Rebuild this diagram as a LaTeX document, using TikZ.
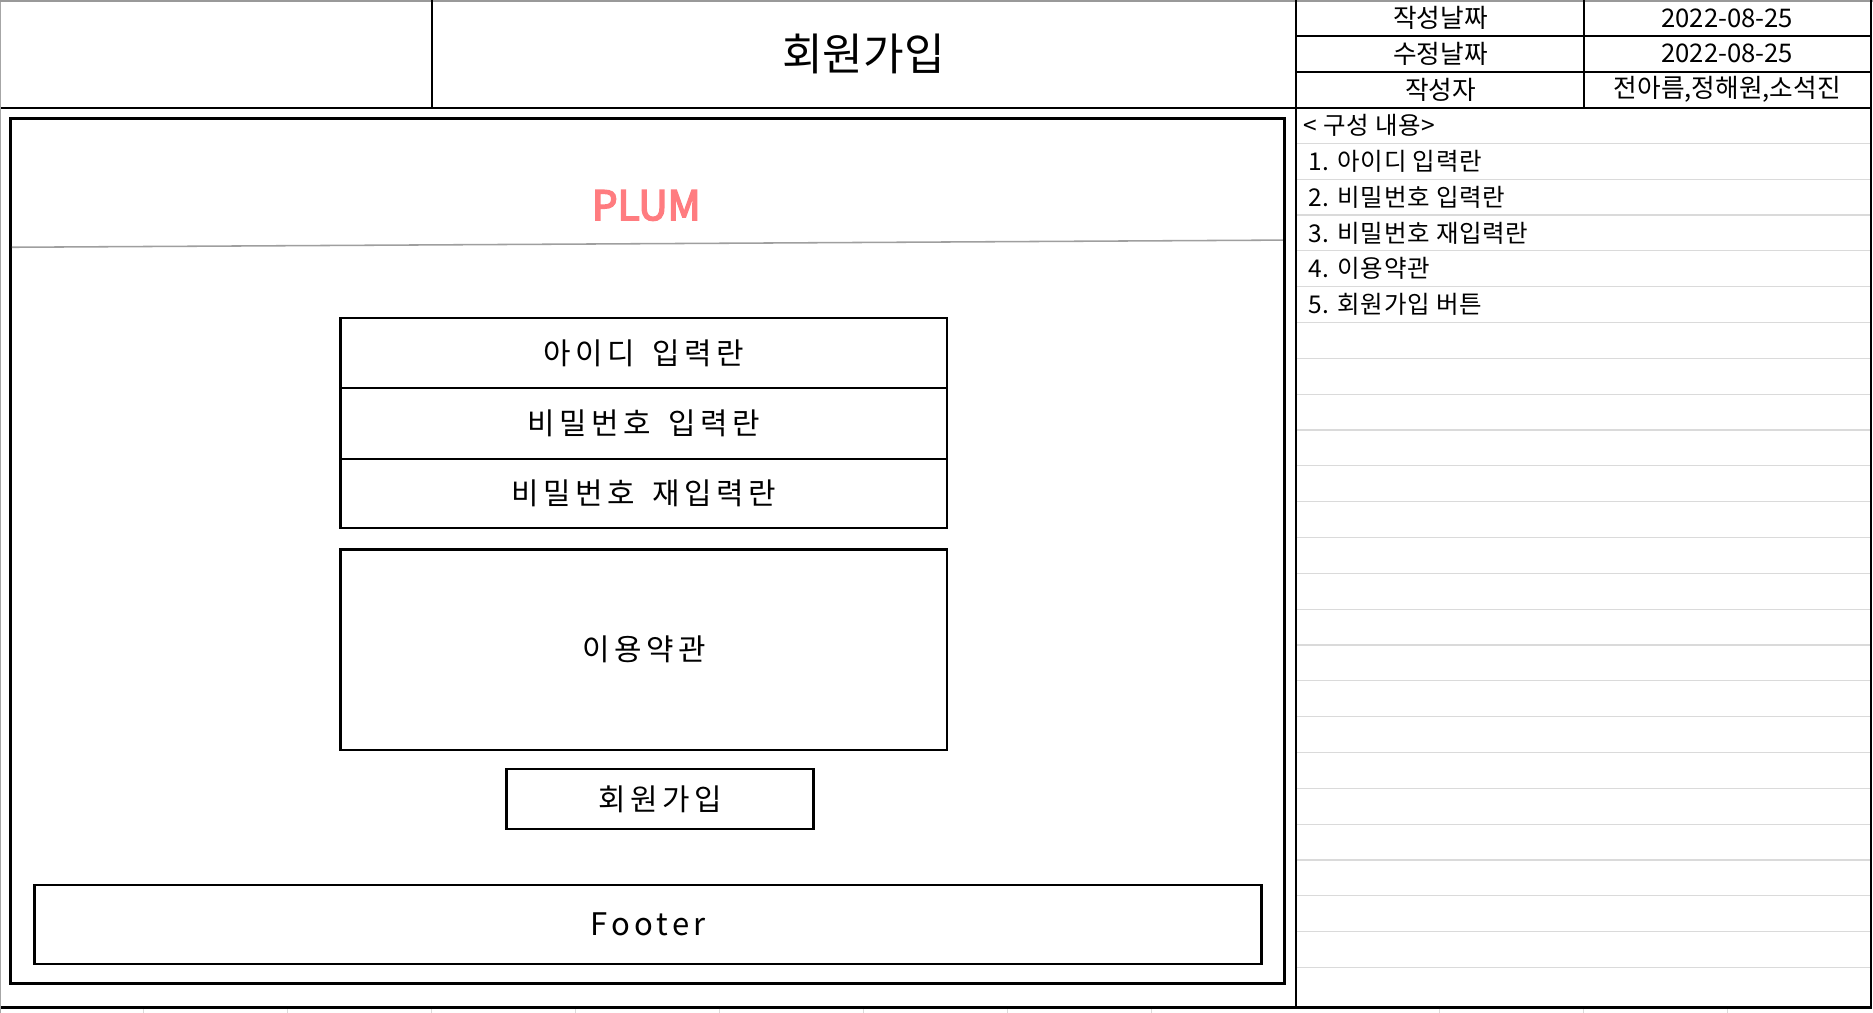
\documentclass[tikz,border=0pt]{standalone}
\usepackage{fontspec}
\setmainfont{Noto Sans CJK KR}
\newfontfamily\spacedfont{Noto Sans CJK KR}[LetterSpace=15,WordSpace=1.6]
\newfontfamily\footfont{Noto Sans CJK KR}[LetterSpace=14]
\newfontfamily\listfont{Noto Sans CJK KR}[LetterSpace=3]
\newfontfamily\plumfont{Noto Sans CJK KR}[FakeBold=4]
\definecolor{plumpink}{HTML}{FF7C80}
\definecolor{gridgray}{HTML}{DADADA}
\tikzset{
  cell/.style={inner sep=0pt, font=\fontsize{21.5}{24}\selectfont},
  listitem/.style={inner sep=0pt, anchor=west, font=\listfont\fontsize{20.5}{24}\selectfont},
  wirebox/.style={draw=black, line width=2pt, inner sep=0pt, font=\spacedfont\fontsize{25}{28}\selectfont},
  frameline/.style={line width=1.8pt, black},
}
\begin{document}
\begin{tikzpicture}[x=1pt,y=-1pt]
\useasboundingbox (0,0) rectangle (1568,848);
\fill[white] (0,0) rectangle (1568,848);
% sheet edges
\draw[gray!70, line width=1pt] (0.5,0) -- (0.5,848);
\draw[gray!80, line width=1pt] (0,0.8) -- (1568,0.8);
% spreadsheet grid ticks below
\foreach \x in {120.5,241,361.5,482,602.5,723,843.5,964,1205,1326,1446.5}
  \draw[gridgray, line width=0.8pt] (\x,844) -- (\x,848);
% right panel grid lines
\foreach \y in {120,150,...,810}
  \draw[gridgray, line width=1pt] (1086,\y) -- (1566,\y);
% header structure
\draw[frameline] (362,0) -- (362,90);
\draw[frameline] (1326,0) -- (1326,90);
\draw[frameline] (1085,0) -- (1085,843);
\draw[frameline] (1566,0) -- (1566,843);
\draw[frameline] (1085,30) -- (1566,30);
\draw[frameline] (1085,60) -- (1566,60);
\draw[line width=2.2pt] (1,90.5) -- (1566,90.5);
\draw[line width=2.4pt] (1,843.5) -- (1567,843.5);
% header texts
\node[inner sep=0pt, font=\fontsize{37}{40}\selectfont] (title) at (723,45) {회원가입};
\node[cell] (c1a) at (1206,15) {작성날짜};
\node[cell] (c1b) at (1446,15) {2022-08-25};
\node[cell] (c2a) at (1206,45) {수정날짜};
\node[cell] (c2b) at (1446,45) {2022-08-25};
\node[cell] (c3a) at (1206,75) {작성자};
\node[cell] (c3b) at (1446,75) {전아름,정해원,소석진};
% right panel list
\node[listitem] (lh) at (1091,105) {< 구성 내용>};
\node[listitem] (l1) at (1095,135) {1. 아이디 입력란};
\node[listitem] (l2) at (1095,165) {2. 비밀번호 입력란};
\node[listitem] (l3) at (1095,195) {3. 비밀번호 재입력란};
\node[listitem] (l4) at (1095,225) {4. 이용약관};
\node[listitem] (l5) at (1095,255) {5. 회원가입 버튼};
% inner screen frame
\draw[line width=2.6pt] (9,99.5) rectangle (1075,823.5);
\draw[gray!75, line width=1.3pt] (10,207) -- (1074,201);
\node[inner sep=0pt, text=plumpink, font=\plumfont\fontsize{34}{37}\selectfont] (plum) at (541,172) {PLUM};
% form boxes
\node[wirebox, minimum width=508pt, minimum height=59pt] (idbox) at (539,295.5) {아이디 입력란};
\node[wirebox, minimum width=508pt, minimum height=59pt] (pwbox) at (539,354.5) {비밀번호 입력란};
\node[wirebox, minimum width=508pt, minimum height=58pt] (pw2box) at (539,413) {비밀번호 재입력란};
\node[wirebox, minimum width=508pt, minimum height=168pt] (terms) at (539,544) {이용약관};
\node[wirebox, minimum width=257pt, minimum height=50pt] (join) at (552.5,669) {회원가입};
\node[wirebox, minimum width=1027pt, minimum height=66pt, font=\footfont\fontsize{26}{29}\selectfont] (footer) at (542.5,774) {Footer};
\end{tikzpicture}
\end{document}
